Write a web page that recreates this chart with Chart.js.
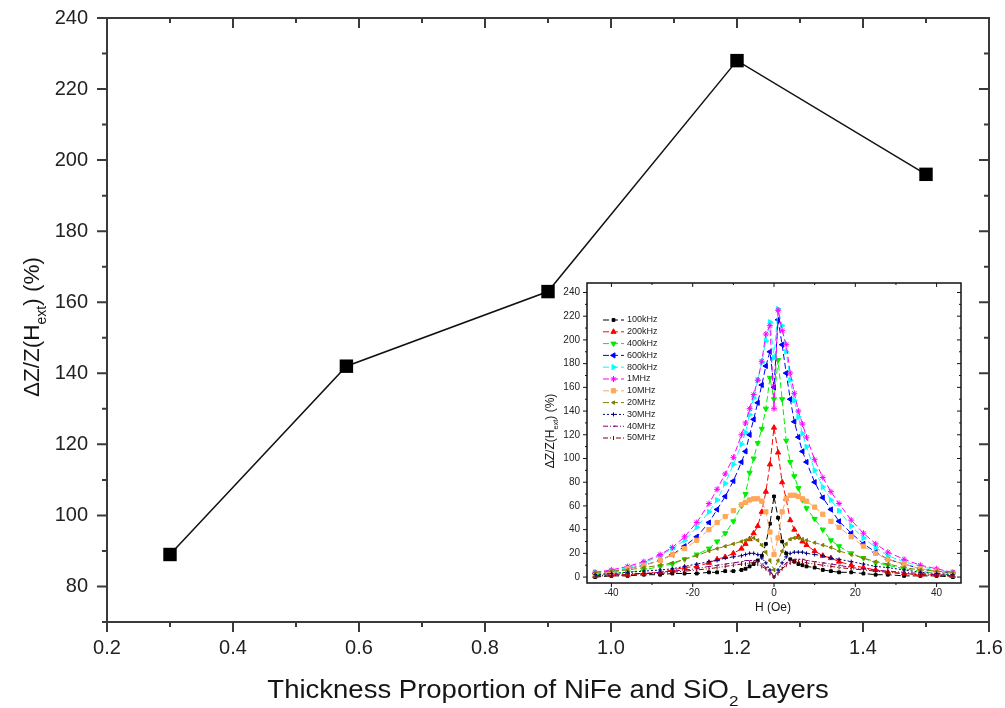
<!DOCTYPE html>
<html>
<head>
<meta charset="utf-8">
<script src="https://cdn.jsdelivr.net/npm/chart.js@4.4.1/dist/chart.umd.min.js"></script>
<style>
  html, body { margin: 0; padding: 0; background: #fff; }
  #wrap { position: relative; width: 1005px; height: 708px; overflow: hidden; }
  #main { position: absolute; left: 0; top: 0; }
  #inset { position: absolute; left: 540px; top: 276px; }
</style>
</head>
<body>
<div id="wrap">
  <canvas id="main" width="1005" height="708"></canvas>
  <canvas id="inset" width="428" height="340"></canvas>
</div>
<script>
const FONT = '"Liberation Sans", Arial, sans-serif';

// main panel: GMI ratio vs thickness proportion
const thickness = [0.3, 0.58, 0.9, 1.2, 1.5];
const gmiRatio = [89, 142, 163, 228, 196];
const mainXTicks = [0.2, 0.4, 0.6, 0.8, 1.0, 1.2, 1.4, 1.6];
const mainYTicks = [80, 100, 120, 140, 160, 180, 200, 220, 240];

// inset: GMI ratio vs field, one curve per frequency
const field = [-44, -40, -36, -32, -28, -25, -22, -19, -16, -14, -12, -10, -8, -7, -6, -5, -4, -3, -2, -1,
  0, 1, 2, 3, 4, 5, 6, 7, 8, 10, 12, 14, 16, 19, 22, 25, 28, 32, 36, 40, 44];
const freqLabels = ['100kHz', '200kHz', '400kHz', '600kHz', '800kHz', '1MHz', '10MHz', '20MHz', '30MHz', '40MHz', '50MHz'];
const f100k = [0, 1, 1, 2, 2, 3, 3, 3, 4, 4, 5, 5, 6, 7, 9, 11, 14, 18, 28, 45,
  68, 50, 30, 20, 15, 13, 11, 10, 9, 8, 6, 5, 4, 4, 3, 2, 2, 1, 1, 1, 0];
const f200k = [1, 2, 2, 3, 4, 6, 8, 9, 12, 15, 17, 20, 24, 28, 32, 37, 43, 55, 72, 95,
  126, 105, 80, 66, 48, 40, 34, 30, 27, 22, 18, 16, 13, 10, 8, 6, 4, 3, 2, 2, 1];
const f400k = [2, 3, 4, 6, 9, 11, 15, 19, 24, 30, 37, 47, 60, 70, 88, 100, 113, 125, 142, 168,
  150, 183, 150, 115, 97, 85, 75, 65, 58, 49, 40, 31, 26, 20, 16, 12, 10, 7, 5, 3, 2];
const f600k = [3, 4, 7, 10, 14, 19, 26, 34, 46, 57, 68, 81, 97, 106, 120, 133, 147, 162, 178, 190,
  160, 217, 196, 172, 150, 131, 118, 106, 97, 80, 67, 57, 47, 37, 28, 21, 15, 11, 7, 5, 3];
const f800k = [4, 5, 8, 12, 18, 24, 31, 42, 55, 65, 79, 95, 112, 122, 137, 151, 166, 181, 199, 215,
  185, 226, 212, 190, 166, 149, 135, 121, 110, 90, 76, 65, 56, 43, 33, 25, 18, 13, 9, 6, 4];
const f1M = [4, 6, 9, 13, 19, 25, 34, 46, 62, 74, 87, 101, 120, 130, 142, 154, 166, 182, 205, 212,
  142, 225, 208, 196, 172, 155, 140, 129, 118, 99, 84, 72, 62, 48, 37, 28, 21, 15, 10, 7, 4];
const f10M = [3, 4, 7, 10, 14, 19, 24, 31, 40, 46, 51, 56, 61, 63, 65, 66, 66, 64, 55, 38,
  19, 33, 55, 66, 69, 69, 68, 66, 64, 59, 53, 47, 42, 34, 26, 20, 15, 11, 7, 5, 3];
const f20M = [4, 5, 6, 8, 10, 12, 15, 18, 22, 24, 26, 28, 30, 31, 32, 33, 31, 27, 21, 14,
  6, 14, 22, 28, 32, 33, 33, 32, 31, 29, 27, 25, 22, 19, 16, 13, 11, 8, 6, 5, 4];
const f30M = [2, 3, 4, 5, 6, 7, 9, 11, 13, 14, 16, 17, 18, 19, 20, 20, 19, 16, 12, 6,
  0, 6, 12, 17, 20, 21, 21, 21, 20, 19, 18, 16, 15, 13, 11, 9, 8, 6, 4, 3, 2];
const f40M = [1, 2, 3, 3, 4, 5, 6, 7, 9, 10, 11, 12, 13, 14, 14, 14, 13, 11, 8, 4,
  1, 4, 8, 12, 14, 15, 15, 15, 14, 13, 12, 11, 10, 8, 7, 6, 5, 4, 3, 2, 1];
const f50M = [1, 1, 2, 3, 3, 4, 5, 6, 7, 8, 9, 10, 11, 11, 12, 12, 11, 9, 7, 3,
  0, 3, 7, 10, 12, 13, 13, 13, 12, 11, 10, 9, 8, 7, 6, 5, 4, 3, 2, 1, 1];
const insetXTicks = [-40, -20, 0, 20, 40];
const insetYTicks = [0, 20, 40, 60, 80, 100, 120, 140, 160, 180, 200, 220, 240];

const insetValues = [f100k, f200k, f400k, f600k, f800k, f1M, f10M, f20M, f30M, f40M, f50M];
const insetLook = [
  { color: '#000000', style: 'rect', rot: 0, r: 2, dash: [6, 3] },
  { color: '#ff0000', style: 'triangle', rot: 0, r: 3, dash: [6, 3] },
  { color: '#00ee00', style: 'triangle', rot: 180, r: 3, dash: [6, 3] },
  { color: '#0000ff', style: 'triangle', rot: 270, r: 3, dash: [6, 3] },
  { color: '#00ffff', style: 'triangle', rot: 90, r: 3, dash: [6, 3] },
  { color: '#ff00ff', style: 'star', rot: 0, r: 3, dash: [6, 3] },
  { color: '#ffa75a', style: 'rect', rot: 0, r: 3, dash: [6, 3] },
  { color: '#808000', style: 'triangle', rot: 270, r: 2, dash: [6, 3] },
  { color: '#000080', style: 'cross', rot: 0, r: 2, dash: [2, 2] },
  { color: '#800080', style: 'dash', rot: 0, r: 2, dash: [5, 2, 1, 2] },
  { color: '#800000', style: 'line', rot: 90, r: 2, dash: [5, 2, 1, 2, 1, 2] }
];

// text with a subscript part, centred on (x, y); sx stretches it along its run
function richText(ctx, parts, x, y, size, angle, sx = 1) {
  const sub = size * 0.62;
  ctx.save();
  ctx.translate(x, y);
  ctx.rotate(angle);
  ctx.scale(sx, 1);
  ctx.fillStyle = '#151515';
  ctx.textBaseline = 'alphabetic';
  ctx.textAlign = 'left';
  let total = 0;
  parts.forEach(p => { ctx.font = `${p.sub ? sub : size}px ${FONT}`; total += ctx.measureText(p.t).width; });
  let cx = -total / 2;
  parts.forEach(p => {
    ctx.font = `${p.sub ? sub : size}px ${FONT}`;
    ctx.fillText(p.t, cx, size * 0.36 + (p.sub ? size * 0.3 : 0));
    cx += ctx.measureText(p.t).width;
  });
  ctx.restore();
}

// box frame with outward ticks bottom/left and inward mirror ticks top/right
function axisFrame(cfg) {
  return {
    id: 'axisFrame',
    afterDraw(chart) {
      const { ctx, chartArea: a, scales } = chart;
      const marks = (scale, majors) => {
        const step = (majors[1] - majors[0]) / 2;
        const first = Math.ceil(scale.min / step - 1e-6);
        const out = [];
        for (let i = first; i * step <= scale.max + 1e-6; i++) {
          const v = i * step;
          const major = majors.some(m => Math.abs(m - v) < step / 10);
          out.push([scale.getPixelForValue(v), major ? cfg.major : cfg.minor]);
        }
        return out;
      };
      ctx.save();
      ctx.strokeStyle = cfg.color;
      ctx.lineWidth = cfg.tickWidth;
      ctx.beginPath();
      marks(scales.x, cfg.xTicks).forEach(([px, len]) => {
        ctx.moveTo(px, a.bottom); ctx.lineTo(px, a.bottom + len);
        ctx.moveTo(px, a.top); ctx.lineTo(px, a.top + len);
      });
      marks(scales.y, cfg.yTicks).forEach(([py, len]) => {
        ctx.moveTo(a.left, py); ctx.lineTo(a.left - len, py);
        ctx.moveTo(a.right, py); ctx.lineTo(a.right - len, py);
      });
      ctx.stroke();
      ctx.lineWidth = cfg.frame;
      ctx.strokeRect(a.left, a.top, a.right - a.left, a.bottom - a.top);
      ctx.restore();
      if (cfg.titles) cfg.titles(ctx, a);
    }
  };
}

// fixed axis band, no extra room reserved for edge labels
const fixX = h => s => { s.height = h; s.paddingLeft = 0; s.paddingRight = 0; };
const fixY = w => s => { s.width = w; s.paddingTop = 0; s.paddingBottom = 0; };

const mainTitles = (ctx) => {
  richText(ctx, [{ t: 'Thickness Proportion of NiFe and SiO' }, { t: '2', sub: true }, { t: ' Layers' }], 548, 689, 25, 0, 1.1);
  richText(ctx, [{ t: '\u0394Z/Z(H' }, { t: 'ext', sub: true }, { t: ') (%)' }], 31, 327, 22.5, -Math.PI / 2);
};

new Chart(document.getElementById('main'), {
  type: 'scatter',
  data: {
    datasets: [{
      data: thickness.map((t, i) => ({ x: t, y: gmiRatio[i] })),
      showLine: true,
      borderColor: '#111',
      borderWidth: 1.5,
      pointStyle: 'rect',
      pointRadius: 9.5,
      pointBackgroundColor: '#000',
      pointBorderColor: '#000',
      pointBorderWidth: 0
    }]
  },
  options: {
    responsive: false,
    animation: false,
    devicePixelRatio: 1,
    layout: { padding: { top: 18, right: 16, left: 0, bottom: 0 } },
    plugins: { legend: { display: false }, tooltip: { enabled: false } },
    scales: {
      x: {
        type: 'linear', min: 0.2, max: 1.6,
        afterBuildTicks: s => { s.ticks = mainXTicks.map(v => ({ value: v })); },
        afterFit: fixX(86),
        grid: { display: false, drawTicks: false }, border: { display: false },
        ticks: { padding: 14, color: '#222', font: { family: FONT, size: 20 }, maxRotation: 0, autoSkip: false, callback: v => v.toFixed(1) }
      },
      y: {
        type: 'linear', min: 70, max: 240,
        afterBuildTicks: s => { s.ticks = mainYTicks.map(v => ({ value: v })); },
        afterFit: fixY(107),
        grid: { display: false, drawTicks: false }, border: { display: false },
        ticks: { padding: 19, color: '#222', font: { family: FONT, size: 20 }, autoSkip: false }
      }
    }
  },
  plugins: [axisFrame({ color: '#3a3a3a', frame: 2, tickWidth: 2, major: 10, minor: 5, xTicks: mainXTicks, yTicks: mainYTicks, titles: mainTitles })]
});

const insetTitles = (ctx) => {
  richText(ctx, [{ t: 'H (Oe)' }], 233, 331, 12, 0);
  richText(ctx, [{ t: '\u0394Z/Z(H' }, { t: 'ext', sub: true }, { t: ') (%)' }], 10, 155, 12, -Math.PI / 2);
};

const insetLegend = {
  id: 'insetLegend',
  afterDatasetsDraw(chart) {
    const ctx = chart.ctx;
    chart.data.datasets.forEach((ds, i) => {
      const y = 44 + i * 11.8;
      ctx.save();
      ctx.lineWidth = 1;
      ctx.strokeStyle = ds.borderColor;
      ctx.setLineDash(ds.borderDash);
      ctx.beginPath(); ctx.moveTo(63, y); ctx.lineTo(84, y); ctx.stroke();
      ctx.setLineDash([]);
      ctx.fillStyle = ds.pointBackgroundColor;
      Chart.helpers.drawPoint(ctx, { pointStyle: ds.pointStyle, rotation: ds.pointRotation, radius: ds.pointRadius, borderWidth: 1 }, 73.5, y);
      ctx.fillStyle = '#222';
      ctx.font = `9px ${FONT}`;
      ctx.textBaseline = 'middle';
      ctx.fillText(ds.label, 87, y);
      ctx.restore();
    });
  }
};

new Chart(document.getElementById('inset'), {
  type: 'scatter',
  data: {
    datasets: insetValues.map((vals, i) => ({
      label: freqLabels[i],
      data: field.map((h, j) => ({ x: h, y: vals[j] })),
      showLine: true,
      order: insetValues.length - i,
      borderColor: insetLook[i].color,
      borderWidth: 1,
      borderDash: insetLook[i].dash,
      pointStyle: insetLook[i].style,
      pointRotation: insetLook[i].rot,
      pointRadius: insetLook[i].r,
      pointBackgroundColor: insetLook[i].color,
      pointBorderColor: insetLook[i].color,
      pointBorderWidth: 1
    }))
  },
  options: {
    responsive: false,
    animation: false,
    devicePixelRatio: 1,
    layout: { padding: { top: 7, right: 7, left: 0, bottom: 0 } },
    plugins: { legend: { display: false }, tooltip: { enabled: false } },
    scales: {
      x: {
        type: 'linear', min: -46, max: 46,
        afterBuildTicks: s => { s.ticks = insetXTicks.map(v => ({ value: v })); },
        afterFit: fixX(33),
        grid: { display: false, drawTicks: false }, border: { display: false },
        ticks: { padding: 4, color: '#222', font: { family: FONT, size: 10 }, maxRotation: 0, autoSkip: false }
      },
      y: {
        type: 'linear', min: -5, max: 248,
        afterBuildTicks: s => { s.ticks = insetYTicks.map(v => ({ value: v })); },
        afterFit: fixY(47),
        grid: { display: false, drawTicks: false }, border: { display: false },
        ticks: { padding: 7, color: '#222', font: { family: FONT, size: 10 }, autoSkip: false }
      }
    }
  },
  plugins: [insetLegend, axisFrame({ color: '#111', frame: 1.5, tickWidth: 1, major: 4, minor: 2, xTicks: insetXTicks, yTicks: insetYTicks, titles: insetTitles })]
});
</script>
</body>
</html>
